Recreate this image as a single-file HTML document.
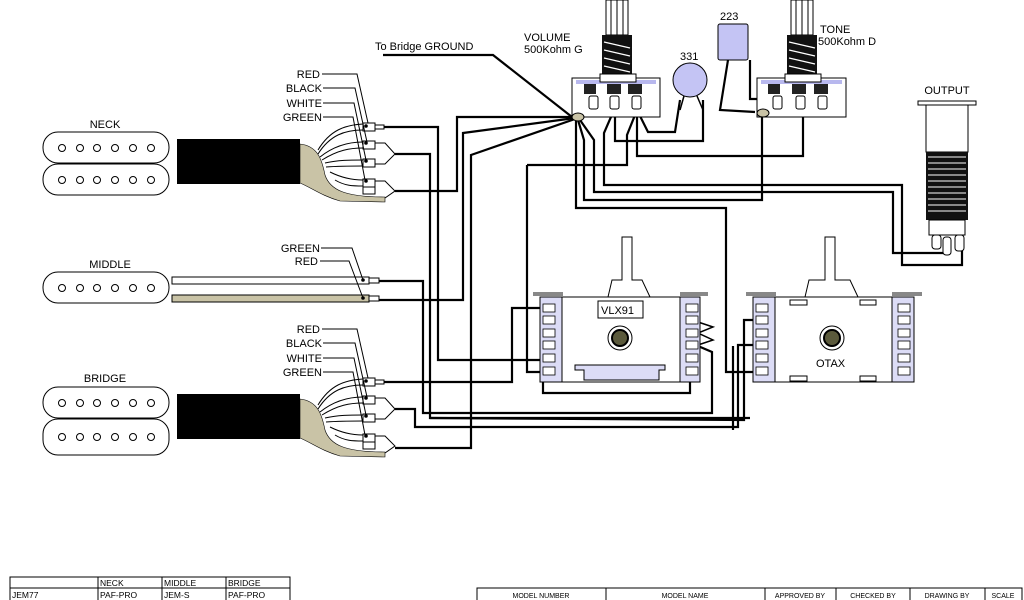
<!DOCTYPE html>
<html><head><meta charset="utf-8"><style>
html,body{margin:0;padding:0;background:#fff;}
svg{display:block;font-family:"Liberation Sans",sans-serif;}
</style></head><body>
<svg width="1024" height="600" viewBox="0 0 1024 600" xmlns="http://www.w3.org/2000/svg">
<rect width="1024" height="600" fill="#fff"/>

<!-- ===== NECK ===== -->
<g id="neck">
<text x="105" y="128" font-size="11" text-anchor="middle">NECK</text>
<rect x="43" y="132" width="126" height="31" rx="15" fill="#fff" stroke="#000"/>
<rect x="43" y="164" width="126" height="31" rx="15" fill="#fff" stroke="#000"/>
<g fill="#fff" stroke="#000">
<circle cx="62" cy="148" r="3.5"/><circle cx="80" cy="148" r="3.5"/><circle cx="97" cy="148" r="3.5"/><circle cx="115" cy="148" r="3.5"/><circle cx="133" cy="148" r="3.5"/><circle cx="151" cy="148" r="3.5"/>
<circle cx="62" cy="180" r="3.5"/><circle cx="80" cy="180" r="3.5"/><circle cx="97" cy="180" r="3.5"/><circle cx="115" cy="180" r="3.5"/><circle cx="133" cy="180" r="3.5"/><circle cx="151" cy="180" r="3.5"/>
</g>
<rect x="177" y="139" width="123" height="45" fill="#000"/>
<path d="M300,144 C318,146 322,160 325,175 C330,190 345,197 385,197 L385,202 L340,201 C322,196 312,188 300,183 Z" fill="#c9c3a6" stroke="#000" stroke-width="0.6"/>
<g fill="none" stroke="#000" stroke-width="1">
<path d="M318,150 C330,130 345,125 363,124"/><path d="M318,154 C330,135 345,130 363,130"/>
<path d="M320,157 C335,145 350,142 363,142"/><path d="M322,160 C338,150 350,148 363,148"/>
<path d="M325,163 C338,160 350,160 363,160"/><path d="M326,167 C340,166 352,166 363,166"/>
<path d="M330,172 C342,178 352,180 363,180"/><path d="M335,180 C345,186 353,186 363,186"/>
</g>
<g fill="#fff" stroke="#000" stroke-width="1">
<rect x="363" y="123" width="12" height="8"/><rect x="375" y="125" width="9" height="4"/>
<rect x="363" y="141" width="12" height="8"/><rect x="363" y="159" width="12" height="8"/>
<rect x="363" y="179" width="12" height="8"/><rect x="363" y="187" width="12" height="7"/>
</g>
<g fill="none" stroke="#000" stroke-width="1">
<path d="M375,143 L385,143 L395,154 L385,164 L375,164"/>
<path d="M375,181 L385,181 L395,191 L385,198"/>
<path d="M352,74 L357,74 L368,123"/><path d="M352,88 L355,88 L367,142"/>
<path d="M352,103 L354,103 L366,160"/><path d="M352,117 L353,117 L365,180"/>
</g>
<g fill="#000"><circle cx="366" cy="126" r="1.8"/><circle cx="366" cy="143" r="1.8"/><circle cx="366" cy="161" r="1.8"/><circle cx="366" cy="181" r="1.8"/></g>
<g font-size="11" text-anchor="end"><text x="320" y="78">RED</text><text x="322" y="92">BLACK</text><text x="322" y="107">WHITE</text><text x="322" y="121">GREEN</text></g>
<g stroke="#000"><line x1="322" y1="74" x2="352" y2="74"/><line x1="323" y1="88" x2="352" y2="88"/><line x1="323" y1="103" x2="352" y2="103"/><line x1="323" y1="117" x2="352" y2="117"/></g>
</g>

<!-- ===== BRIDGE (copy of neck shifted) ===== -->
<g transform="translate(0,255)">
<text x="105" y="127" font-size="11" text-anchor="middle">BRIDGE</text>
<rect x="43" y="132" width="126" height="31" rx="15" fill="#fff" stroke="#000"/>
<rect x="43" y="164" width="126" height="36" rx="15" fill="#fff" stroke="#000"/>
<g fill="#fff" stroke="#000">
<circle cx="62" cy="148" r="3.5"/><circle cx="80" cy="148" r="3.5"/><circle cx="97" cy="148" r="3.5"/><circle cx="115" cy="148" r="3.5"/><circle cx="133" cy="148" r="3.5"/><circle cx="151" cy="148" r="3.5"/>
<circle cx="62" cy="182" r="3.5"/><circle cx="80" cy="182" r="3.5"/><circle cx="97" cy="182" r="3.5"/><circle cx="115" cy="182" r="3.5"/><circle cx="133" cy="182" r="3.5"/><circle cx="151" cy="182" r="3.5"/>
</g>
<rect x="177" y="139" width="123" height="45" fill="#000"/>
<path d="M300,144 C318,146 322,160 325,175 C330,190 345,197 385,197 L385,202 L340,201 C322,196 312,188 300,183 Z" fill="#c9c3a6" stroke="#000" stroke-width="0.6"/>
<g fill="none" stroke="#000" stroke-width="1">
<path d="M318,150 C330,130 345,125 363,124"/><path d="M318,154 C330,135 345,130 363,130"/>
<path d="M320,157 C335,145 350,142 363,142"/><path d="M322,160 C338,150 350,148 363,148"/>
<path d="M325,163 C338,160 350,160 363,160"/><path d="M326,167 C340,166 352,166 363,166"/>
<path d="M330,172 C342,178 352,180 363,180"/><path d="M335,180 C345,186 353,186 363,186"/>
</g>
<g fill="#fff" stroke="#000" stroke-width="1">
<rect x="363" y="123" width="12" height="8"/><rect x="375" y="125" width="9" height="4"/>
<rect x="363" y="141" width="12" height="8"/><rect x="363" y="159" width="12" height="8"/>
<rect x="363" y="179" width="12" height="8"/><rect x="363" y="187" width="12" height="7"/>
</g>
<g fill="none" stroke="#000" stroke-width="1">
<path d="M375,143 L385,143 L395,154 L385,164 L375,164"/>
<path d="M375,181 L385,181 L395,191 L385,198"/>
<path d="M352,74 L357,74 L368,123"/><path d="M352,88 L355,88 L367,142"/>
<path d="M352,103 L354,103 L366,160"/><path d="M352,117 L353,117 L365,180"/>
</g>
<g fill="#000"><circle cx="366" cy="126" r="1.8"/><circle cx="366" cy="143" r="1.8"/><circle cx="366" cy="161" r="1.8"/><circle cx="366" cy="181" r="1.8"/></g>
<g font-size="11" text-anchor="end"><text x="320" y="78">RED</text><text x="322" y="92">BLACK</text><text x="322" y="107">WHITE</text><text x="322" y="121">GREEN</text></g>
<g stroke="#000"><line x1="322" y1="74" x2="352" y2="74"/><line x1="323" y1="88" x2="352" y2="88"/><line x1="323" y1="103" x2="352" y2="103"/><line x1="323" y1="117" x2="352" y2="117"/></g>
</g>

<!-- ===== MIDDLE ===== -->
<text x="110" y="268" font-size="11" text-anchor="middle">MIDDLE</text>
<rect x="43" y="272" width="126" height="31" rx="15" fill="#fff" stroke="#000"/>
<g fill="#fff" stroke="#000">
<circle cx="62" cy="288" r="3.5"/><circle cx="80" cy="288" r="3.5"/><circle cx="97" cy="288" r="3.5"/><circle cx="115" cy="288" r="3.5"/><circle cx="133" cy="288" r="3.5"/><circle cx="151" cy="288" r="3.5"/>
</g>
<rect x="172" y="277" width="197" height="7" fill="#fff" stroke="#000"/>
<rect x="172" y="295" width="197" height="7" fill="#c9c3a6" stroke="#000"/>
<rect x="369" y="278" width="10" height="5" fill="#fff" stroke="#000"/>
<rect x="369" y="296" width="10" height="5" fill="#fff" stroke="#000"/>
<g font-size="11" text-anchor="end"><text x="320" y="252">GREEN</text><text x="318" y="265">RED</text></g>
<g stroke="#000" fill="none"><path d="M321,248 L352,248 L363,280"/><path d="M320,261 L349,261 L363,298"/></g>
<g fill="#000"><circle cx="363" cy="280" r="1.8"/><circle cx="363" cy="298" r="1.8"/></g>

<!-- ===== WIRES ===== -->
<g fill="none" stroke="#000" stroke-width="2.2">
<path d="M384,127 L438,127 L438,360 L540,360"/>
<path d="M395,154 L430,154 L430,418 L750,418"/>
<path d="M395,191 L457,191 L457,117 L575,117"/>
<path d="M575,118 L463,133 L463,300 L379,300"/>
<path d="M575,119 L471,155 L471,448 L395,448"/>
<path d="M379,281 L423,281 L423,413 L712,413 L712,352 L698,346"/>
<path d="M384,382 L512,382 L512,308 L540,308"/>
<path d="M395,409 L415,409 L415,427 L738,427 L738,345 L753,345"/>
<path d="M430,418 L744,420 L744,320 L753,320"/>
<path d="M733,430 L733,346"/>
<path d="M527,165 L627,165 L627,135 L637,110"/>
<path d="M527,165 L527,372 L540,372"/>
<path d="M543,382 L543,393 L690,393 L690,382"/>
<path d="M576,118 L576,208 L726,208 L726,372 L753,372"/>
<path d="M578,120 L584,140 L584,200 L762,200 L762,113"/>
<path d="M580,120 L594,140 L594,192 L893,192 L893,253 L945,253"/>
<path d="M614,110 L604,133 L604,185 L902,185 L902,265 L962,265 L962,250"/>
<path d="M615,110 L615,141 L703,141 L703,100"/>
<path d="M637,110 L637,156 L803,156 L803,107"/>
<path d="M637,110 L648,132 L675,132 L680,100"/>
<path d="M383,55 L493,55 L572,117"/>
<path d="M750,60 L750,99 L775,99"/>
<path d="M728,60 L720,110 L755,112"/>
</g>
<g fill="none" stroke="#000" stroke-width="1.5">
<path d="M698,322 L713,327 L698,333 L713,340 L698,345"/>
</g>
<text x="375" y="50" font-size="11">To Bridge GROUND</text>

<!-- ===== VOLUME POT ===== -->
<text x="524" y="41" font-size="11">VOLUME</text>
<text x="524" y="53" font-size="11">500Kohm G</text>
<rect x="606" y="0" width="22" height="35" fill="#fff" stroke="#000"/>
<g stroke="#000"><line x1="611" y1="0" x2="611" y2="35"/><line x1="617" y1="0" x2="617" y2="35"/><line x1="623" y1="0" x2="623" y2="35"/></g>
<rect x="602" y="35" width="30" height="43" fill="#111"/>
<g stroke="#fff" stroke-width="1.2"><line x1="604" y1="42" x2="630" y2="48"/><line x1="604" y1="50" x2="630" y2="56"/><line x1="604" y1="58" x2="630" y2="64"/><line x1="604" y1="66" x2="630" y2="72"/></g>
<rect x="572" y="78" width="88" height="39" fill="#fff" stroke="#000"/>
<rect x="576" y="80" width="80" height="4" fill="#b8b8ee"/>
<rect x="600" y="74" width="36" height="8" fill="#fff" stroke="#000"/>
<g fill="#222"><path d="M584,84 h12 v10 h-12z"/><path d="M607,84 h14 v10 h-14z"/><path d="M628,84 h14 v10 h-14z"/></g>
<g fill="#fff" stroke="#000"><rect x="589" y="96" width="9" height="13" rx="2"/><rect x="610" y="96" width="9" height="13" rx="2"/><rect x="632" y="96" width="9" height="13" rx="2"/></g>
<ellipse cx="578" cy="117" rx="6" ry="4" fill="#c9c3a6" stroke="#000"/>

<!-- caps -->
<text x="680" y="60" font-size="11">331</text>
<circle cx="690" cy="80" r="17" fill="#c4c4f4" stroke="#000"/>
<g stroke="#000" stroke-width="1.5"><line x1="684" y1="96" x2="680" y2="110"/><line x1="697" y1="96" x2="703" y2="110"/></g>
<text x="720" y="20" font-size="11">223</text>
<rect x="718" y="24" width="30" height="36" rx="2" fill="#c4c4f4" stroke="#000"/>

<!-- TONE POT -->
<text x="820" y="33" font-size="11">TONE</text>
<text x="818" y="45" font-size="11">500Kohm D</text>
<rect x="791" y="0" width="22" height="35" fill="#fff" stroke="#000"/>
<g stroke="#000"><line x1="796" y1="0" x2="796" y2="35"/><line x1="802" y1="0" x2="802" y2="35"/><line x1="808" y1="0" x2="808" y2="35"/></g>
<rect x="787" y="35" width="30" height="43" fill="#111"/>
<g stroke="#fff" stroke-width="1.2"><line x1="789" y1="42" x2="815" y2="48"/><line x1="789" y1="50" x2="815" y2="56"/><line x1="789" y1="58" x2="815" y2="64"/><line x1="789" y1="66" x2="815" y2="72"/></g>
<rect x="757" y="78" width="89" height="39" fill="#fff" stroke="#000"/>
<rect x="761" y="80" width="81" height="4" fill="#b8b8ee"/>
<rect x="785" y="74" width="36" height="8" fill="#fff" stroke="#000"/>
<g fill="#222"><path d="M768,84 h12 v10 h-12z"/><path d="M792,84 h14 v10 h-14z"/><path d="M814,84 h14 v10 h-14z"/></g>
<g fill="#fff" stroke="#000"><rect x="773" y="96" width="9" height="13" rx="2"/><rect x="796" y="96" width="9" height="13" rx="2"/><rect x="818" y="96" width="9" height="13" rx="2"/></g>
<ellipse cx="763" cy="113" rx="6" ry="4" fill="#c9c3a6" stroke="#000"/>

<!-- OUTPUT JACK -->
<text x="947" y="94" font-size="11" text-anchor="middle">OUTPUT</text>
<rect x="918" y="101" width="58" height="4" fill="#fff" stroke="#000"/>
<rect x="926" y="105" width="42" height="47" fill="#fff" stroke="#000"/>
<rect x="926" y="152" width="42" height="68" fill="#111"/>
<g stroke="#fff" stroke-width="1"><line x1="928" y1="157" x2="966" y2="157"/><line x1="928" y1="163" x2="966" y2="163"/><line x1="928" y1="169" x2="966" y2="169"/><line x1="928" y1="175" x2="966" y2="175"/><line x1="928" y1="181" x2="966" y2="181"/><line x1="928" y1="187" x2="966" y2="187"/><line x1="928" y1="193" x2="966" y2="193"/><line x1="928" y1="199" x2="966" y2="199"/><line x1="928" y1="205" x2="966" y2="205"/><line x1="928" y1="211" x2="966" y2="211"/></g>
<rect x="929" y="220" width="36" height="15" fill="#fff" stroke="#000"/>
<g fill="#fff" stroke="#000"><rect x="932" y="235" width="9" height="14" rx="3"/><rect x="943" y="237" width="8" height="18" rx="3"/><rect x="955" y="235" width="9" height="16" rx="3"/></g>

<!-- SWITCH 1 -->
<path d="M608,297 L612,280 L622,280 L622,237 L632,237 L632,280 L642,280 L650,297" fill="#fff" stroke="#000"/>
<rect x="540" y="297" width="160" height="85" fill="#fff" stroke="#000"/>
<rect x="540" y="297" width="22" height="85" fill="#dcdcf6" stroke="#000"/>
<rect x="680" y="297" width="20" height="85" fill="#dcdcf6" stroke="#000"/>
<rect x="533" y="292" width="30" height="4" fill="#888"/><rect x="680" y="292" width="28" height="4" fill="#888"/>
<g fill="#fff" stroke="#000" stroke-width="0.8">
<rect x="543" y="304" width="12" height="8"/><rect x="543" y="316" width="12" height="8"/><rect x="543" y="329" width="12" height="8"/><rect x="543" y="341" width="12" height="8"/><rect x="543" y="354" width="12" height="8"/><rect x="543" y="367" width="12" height="8"/>
<rect x="686" y="304" width="12" height="8"/><rect x="686" y="316" width="12" height="8"/><rect x="686" y="329" width="12" height="8"/><rect x="686" y="341" width="12" height="8"/><rect x="686" y="354" width="12" height="8"/><rect x="686" y="367" width="12" height="8"/>
</g>
<rect x="598" y="301" width="45" height="17" fill="#fff" stroke="#000"/>
<text x="601" y="314" font-size="11">VLX91</text>
<circle cx="620" cy="338" r="12" fill="#fff" stroke="#000"/>
<circle cx="620" cy="338" r="8" fill="#5b5a3c" stroke="#000" stroke-width="2"/>
<path d="M575,365 L665,365 L665,370 L659,370 L659,380 L584,380 L584,370 L575,370 Z" fill="#dcdcf6" stroke="#000"/>

<!-- SWITCH 2 -->
<path d="M805,297 L809,280 L825,280 L825,237 L835,237 L835,280 L850,280 L858,297" fill="#fff" stroke="#000"/>
<rect x="753" y="297" width="161" height="85" fill="#fff" stroke="#000"/>
<rect x="753" y="297" width="22" height="85" fill="#dcdcf6" stroke="#000"/>
<rect x="892" y="297" width="22" height="85" fill="#dcdcf6" stroke="#000"/>
<rect x="746" y="292" width="30" height="4" fill="#888"/><rect x="892" y="292" width="30" height="4" fill="#888"/>
<g fill="#fff" stroke="#000" stroke-width="0.8">
<rect x="756" y="304" width="12" height="8"/><rect x="756" y="316" width="12" height="8"/><rect x="756" y="329" width="12" height="8"/><rect x="756" y="341" width="12" height="8"/><rect x="756" y="354" width="12" height="8"/><rect x="756" y="367" width="12" height="8"/>
<rect x="898" y="304" width="12" height="8"/><rect x="898" y="316" width="12" height="8"/><rect x="898" y="329" width="12" height="8"/><rect x="898" y="341" width="12" height="8"/><rect x="898" y="354" width="12" height="8"/><rect x="898" y="367" width="12" height="8"/>
</g>
<g fill="#fff" stroke="#000"><path d="M790,300 h17 v5 h-17z"/><path d="M860,300 h16 v5 h-16z"/><path d="M790,376 h17 v5 h-17z"/><path d="M860,376 h16 v5 h-16z"/></g>
<circle cx="832" cy="338" r="12" fill="#fff" stroke="#000"/>
<circle cx="832" cy="338" r="8" fill="#5b5a3c" stroke="#000" stroke-width="2"/>
<text x="816" y="367" font-size="11">OTAX</text>

<!-- TABLES -->
<g stroke="#000" fill="none" stroke-width="1">
<rect x="10" y="577" width="280" height="24"/>
<line x1="10" y1="588" x2="290" y2="588"/>
<line x1="98" y1="577" x2="98" y2="600"/><line x1="162" y1="577" x2="162" y2="600"/><line x1="226" y1="577" x2="226" y2="600"/>
<rect x="477" y="588" width="545" height="13"/>
<line x1="606" y1="588" x2="606" y2="600"/><line x1="765" y1="588" x2="765" y2="600"/><line x1="836" y1="588" x2="836" y2="600"/><line x1="910" y1="588" x2="910" y2="600"/><line x1="985" y1="588" x2="985" y2="600"/>
</g>
<g font-size="8.5">
<text x="100" y="586">NECK</text><text x="164" y="586">MIDDLE</text><text x="228" y="586">BRIDGE</text>
<text x="12" y="598">JEM77</text><text x="100" y="598">PAF-PRO</text><text x="164" y="598">JEM-S</text><text x="228" y="598">PAF-PRO</text>
</g>
<g font-size="7">
<text x="541" y="598" text-anchor="middle">MODEL NUMBER</text><text x="685" y="598" text-anchor="middle">MODEL NAME</text>
<text x="800" y="598" text-anchor="middle">APPROVED BY</text><text x="873" y="598" text-anchor="middle">CHECKED BY</text>
<text x="947" y="598" text-anchor="middle">DRAWING BY</text><text x="1003" y="598" text-anchor="middle">SCALE</text>
</g>
</svg>
</body></html>
